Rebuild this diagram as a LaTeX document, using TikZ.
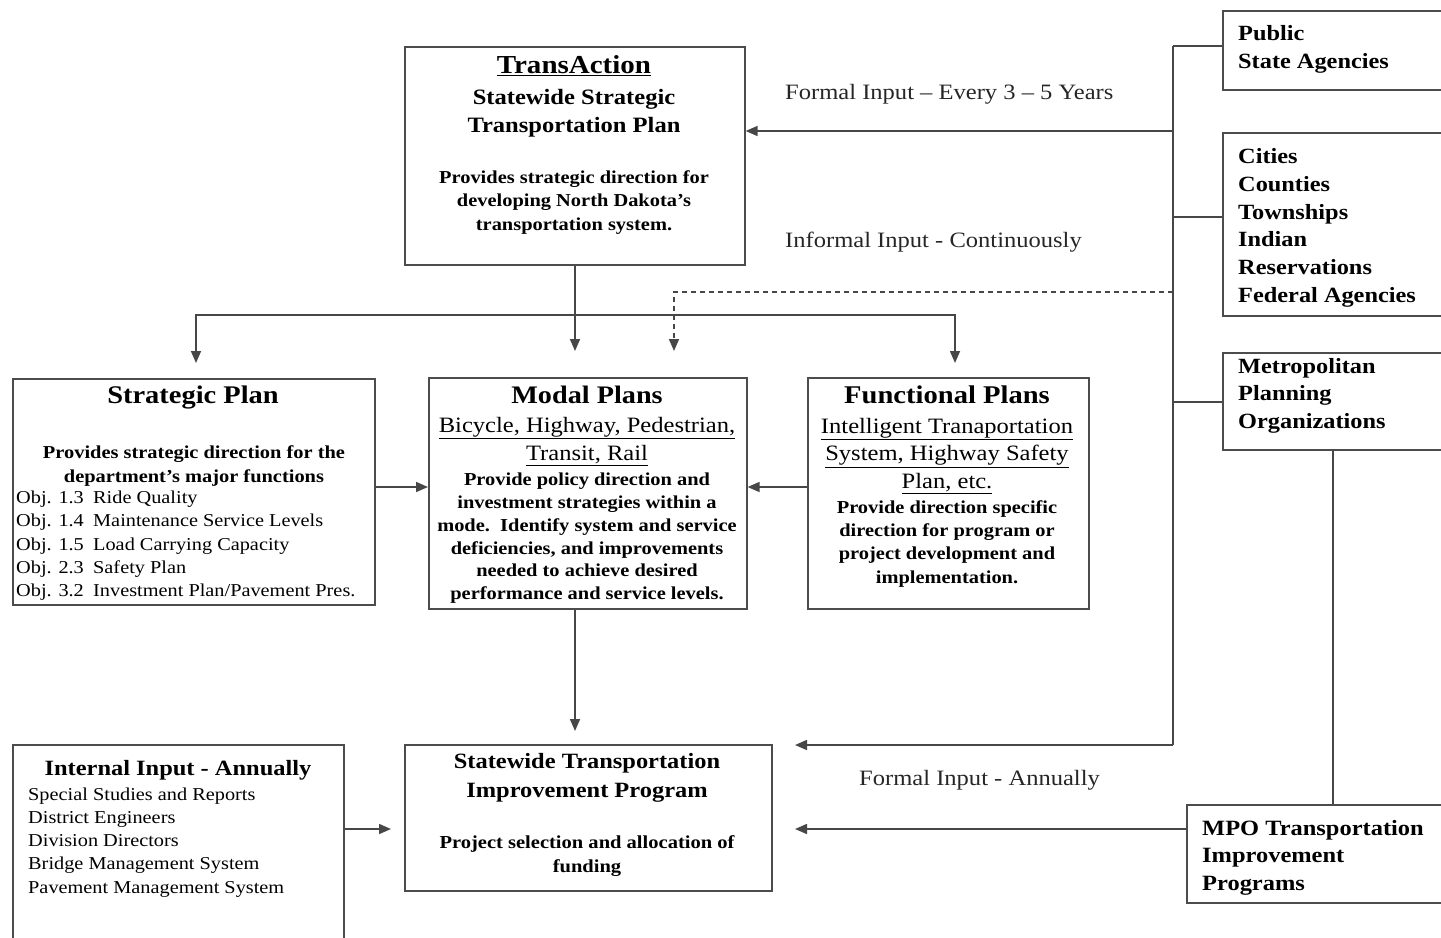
\documentclass[tikz,border=0pt]{standalone}
\usepackage{fontspec}
\setmainfont{Liberation Serif}[FakeStretch=1.12]
\usetikzlibrary{arrows.meta}
\newcommand{\fs}[2]{\fontsize{#1}{#2}\selectfont}
\tikzset{
  box/.style={draw=black!70, line width=1.6bp, anchor=north west, inner sep=0pt},
  conn/.style={draw=black!72, line width=1.6bp},
  arr/.style={conn, -{Triangle[length=12bp,width=10bp]}},
  dasharr/.style={arr, dash pattern=on 5bp off 4bp},
  ctext/.style={align=center, anchor=north, inner sep=0pt},
  ltext/.style={align=left, anchor=north west, inner sep=0pt},
  lbl/.style={anchor=base west, inner sep=0pt, font=\fs{22}{26}, text=black!85},
}
\begin{document}
\begin{tikzpicture}[x=1bp, y=-1bp]
\useasboundingbox (0,0) rectangle (1441,937);
\clip (0,0) rectangle (1441,937);
\fill[white] (0,0) rectangle (1441,937);

% ---------- boxes ----------
\node[box, minimum width=340bp, minimum height=218bp] (trans) at (404,46) {};
\node[box, minimum width=362bp, minimum height=226bp] (sp) at (12,378) {};
\node[box, minimum width=318bp, minimum height=231bp] (modal) at (428,377) {};
\node[box, minimum width=281bp, minimum height=231bp] (func) at (807,377) {};
\node[box, minimum width=240bp, minimum height=79bp] (pub) at (1222,10) {};
\node[box, minimum width=240bp, minimum height=183bp] (cities) at (1222,132) {};
\node[box, minimum width=240bp, minimum height=97bp] (metro) at (1222,352) {};
\node[box, minimum width=280bp, minimum height=98bp] (mpo) at (1186,804) {};
\node[box, minimum width=331bp, minimum height=210bp] (intern) at (12,744) {};
\node[box, minimum width=367bp, minimum height=146bp] (stip) at (404,744) {};

% ---------- texts ----------
\node[ctext, font=\bfseries\fs{26}{30}] (transT) at (574,55) {\underline{TransAction}};
\node[ctext, font=\bfseries\fs{22}{28}] (transS) at (574,89) {Statewide Strategic\\Transportation Plan};
\node[ctext, font=\bfseries\fs{18.3}{23.5}] (transB) at (574,170.4) {Provides strategic direction for\\developing North Dakota’s\\transportation system.};

\node[ctext, font=\bfseries\fs{25.5}{30}] (spT) at (193,385.4) {Strategic Plan};
\node[ctext, font=\bfseries\fs{18.3}{24}] (spB) at (194,445.4) {Provides strategic direction for the\\department’s major functions};
\node[ltext, font=\fs{18.2}{23.5}] (spL) at (16,490.4) {%
\makebox[77bp][l]{Obj. 1.3}Ride Quality\\
\makebox[77bp][l]{Obj. 1.4}Maintenance Service Levels\\
\makebox[77bp][l]{Obj. 1.5}Load Carrying Capacity\\
\makebox[77bp][l]{Obj. 2.3}Safety Plan\\
\makebox[77bp][l]{Obj. 3.2}Investment Plan/Pavement Pres.};

\node[ctext, font=\bfseries\fs{25.3}{30}] (modT) at (587,385.5) {Modal Plans};
\node[ctext, font=\fs{22}{28}] (modU) at (587,417) {\underline{Bicycle, Highway, Pedestrian,}\\\underline{Transit, Rail}};
\node[ctext, font=\bfseries\fs{18.3}{23}] (modB) at (587,472.4) {Provide policy direction and\\investment strategies within a\\mode.\ \ Identify system and service\\deficiencies, and improvements\\needed to achieve desired\\performance and service levels.};

\node[ctext, font=\bfseries\fs{25.6}{30}] (funT) at (947,385.3) {Functional Plans};
\node[ctext, font=\fs{22}{27.5}] (funU) at (947,418) {\underline{Intelligent Tranaportation}\\\underline{System, Highway Safety}\\\underline{Plan, etc.}};
\node[ctext, font=\bfseries\fs{18.3}{23.3}] (funB) at (947,500.4) {Provide direction specific\\direction for program or\\project development and\\implementation.};

\node[ltext, font=\bfseries\fs{21.8}{28}] (pubT) at (1238,25) {Public\\State Agencies};
\node[ltext, font=\bfseries\fs{21.8}{28}] (citT) at (1238,148) {Cities\\Counties\\Townships\\Indian\\Reservations\\Federal Agencies};
\node[ltext, font=\bfseries\fs{21.8}{27.5}] (metT) at (1238,358) {Metropolitan\\Planning\\Organizations};
\node[ltext, font=\bfseries\fs{21.9}{27.5}] (mpoT) at (1202,820) {MPO Transportation\\Improvement\\Programs};

\node[ctext, font=\bfseries\fs{21.9}{28}] (intT) at (178,760) {Internal Input - Annually};
\node[ltext, font=\fs{18.2}{23.3}] (intL) at (28,787.4) {Special Studies and Reports\\District Engineers\\Division Directors\\Bridge Management System\\Pavement Management System};

\node[ctext, font=\bfseries\fs{21.9}{29}] (stT) at (587,753) {Statewide Transportation\\Improvement Program};
\node[ctext, font=\bfseries\fs{18.4}{24}] (stB) at (587,835.3) {Project selection and allocation of\\funding};

% ---------- labels ----------
\node[lbl] (l1) at (785,99) {Formal Input – Every 3 – 5 Years};
\node[lbl] (l2) at (785,247) {Informal Input - Continuously};
\node[lbl] (l3) at (859,785) {Formal Input - Annually};

% ---------- bus coordinates ----------
\coordinate (bTop) at (1173,46);
\coordinate (bF) at (1173,131);
\coordinate (bC) at (1173,217);
\coordinate (bD) at (1173,292);
\coordinate (bM) at (1173,402);
\coordinate (bBot) at (1173,745);
\coordinate (stipIn1) at (795,745);
\coordinate (stipIn2) at (795,829);
\coordinate (dTip) at (674,351);
\coordinate (tTip) at (575,351);
\coordinate (jL) at (575,315);
\coordinate (spTip) at (196,363);
\coordinate (fnTip) at (955,363);
\coordinate (mTip) at (575,731);
\coordinate (iTip) at (391,829);

% ---------- connectors ----------
\draw[conn] (bTop) -- (bBot);
\draw[conn] (bTop) -- (bTop -| pub.west);
\draw[conn] (bC) -- (bC -| cities.west);
\draw[conn] (bM) -- (bM -| metro.west);
\draw[arr] (bF) -- (bF -| trans.east);
\draw[dasharr] (bD) -| (dTip);
\draw[arr] (trans.south -| tTip) -- (tTip);
\draw[arr] (jL) -| (spTip);
\draw[arr] (jL) -| (fnTip);
\draw[arr] (sp.east |- 0,487) -- (modal.west |- 0,487);
\draw[arr] (func.west |- 0,487) -- (modal.east |- 0,487);
\draw[arr] (modal.south -| mTip) -- (mTip);
\draw[arr] (intern.east |- iTip) -- (iTip);
\draw[arr] (bBot) -- (stipIn1);
\draw[arr] (mpo.west |- stipIn2) -- (stipIn2);
\draw[conn] (metro.south -| 1333,0) -- (mpo.north -| 1333,0);
\end{tikzpicture}
\end{document}
